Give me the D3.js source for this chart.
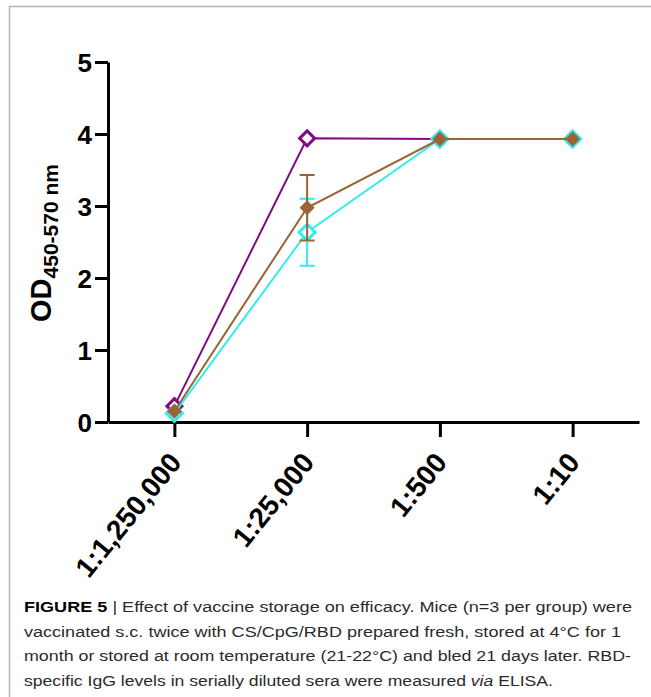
<!DOCTYPE html>
<html>
<head>
<meta charset="utf-8">
<script src="https://cdn.jsdelivr.net/npm/d3@7"></script>
<style>
  body { margin: 0; background: #fff; }
  svg { display: block; font-family: "Liberation Sans", Arial, sans-serif; }
</style>
</head>
<body>
<svg id="chart" width="651" height="697"></svg>
<script>
// Dilutions on the x axis
const dilutions = ['1:1,250,000', '1:25,000', '1:500', '1:10'];
const yTicks = [0, 1, 2, 3, 4, 5];

// OD values (mean and error)
const freshValues = [0.22, 3.94, 3.93, 3.93];
const freshErr = [0, 0, 0, 0];
const roomTempValues = [0.12, 2.635, 3.93, 3.93];
const roomTempErr = [0.02, 0.465, 0.01, 0.01];
const fridgeValues = [0.15, 2.975, 3.93, 3.93];
const fridgeErr = [0.02, 0.455, 0.01, 0.01];

const captionLines = [
    'Effect of vaccine storage on efficacy. Mice (n=3 per group) were',
    'vaccinated s.c. twice with CS/CpG/RBD prepared fresh, stored at 4\u00B0C for 1',
    'month or stored at room temperature (21-22\u00B0C) and bled 21 days later. RBD-',
    'specific IgG levels in serially diluted sera were measured '
];

const svg = d3.select('#chart');

// page frame (grey lines at top and left)
svg.append('path')
    .attr('d', 'M9.5,697 L9.5,6.5 L651,6.5')
    .attr('fill', 'none')
    .attr('stroke', '#b4b4b4')
    .attr('stroke-width', 1.5);

// scales
const x = d3.scalePoint()
    .domain(dilutions)
    .range([108, 639])
    .padding(0.5);

const y = d3.scaleLinear()
    .domain([0, 5])
    .range([422, 62]);

// axes
const yAxis = svg.append('g')
    .attr('transform', 'translate(108,0)')
    .call(d3.axisLeft(y).tickValues(yTicks).tickFormat(d3.format('d')).tickSize(13).tickSizeOuter(0).tickPadding(3));

const xAxis = svg.append('g')
    .attr('transform', 'translate(0,422)')
    .call(d3.axisBottom(x).tickSize(15).tickSizeOuter(0));

[yAxis, xAxis].forEach(g => {
    g.select('.domain').attr('stroke', '#000').attr('stroke-width', 3);
    g.selectAll('.tick line').attr('stroke', '#000').attr('stroke-width', 3);
    g.selectAll('.tick text')
        .attr('fill', '#000')
        .attr('font-size', 26)
        .attr('font-weight', 'bold')
        .attr('font-family', '"Liberation Sans", Arial, sans-serif');
});

yAxis.selectAll('.tick text').attr('dy', '0.36em');

xAxis.selectAll('.tick text')
    .attr('font-size', 28)
    .attr('text-anchor', 'end')
    .attr('transform', 'translate(8,41) rotate(-51)')
    .attr('y', 0)
    .attr('dy', 0);

// y label
const yLabel = svg.append('text')
    .attr('transform', 'translate(51,243) rotate(-90)')
    .attr('text-anchor', 'middle')
    .attr('font-weight', 'bold')
    .attr('fill', '#000');
yLabel.append('tspan').attr('font-size', 29).text('OD');
yLabel.append('tspan').attr('font-size', 21).attr('dy', 7).text('450-570 nm');

// series
const diamond = r => `M0,${-r}L${r},0L0,${r}L${-r},0Z`;

const series = [
    { values: freshValues, err: freshErr, color: '#820a82', fill: '#fff', r: 7.5, sw: 3 },
    { values: roomTempValues, err: roomTempErr, color: '#33ecec', fill: '#fff', r: 8, sw: 3 },
    { values: fridgeValues, err: fridgeErr, color: '#9a6434', fill: '#9a6434', r: 7.5, sw: 0 }
];

const line = d3.line()
    .x((d, i) => x(dilutions[i]))
    .y(d => y(d));

series.forEach(s => {
    const g = svg.append('g');

    g.append('path')
        .datum(s.values)
        .attr('d', line)
        .attr('fill', 'none')
        .attr('stroke', s.color)
        .attr('stroke-width', 2);

    // error bars where visible
    s.values.forEach((v, i) => {
        if (s.err[i] < 0.1) return;
        const cx = x(dilutions[i]);
        const top = y(v + s.err[i]);
        const bot = y(v - s.err[i]);
        g.append('path')
            .attr('d', `M${cx},${top}L${cx},${bot}M${cx - 7.5},${top}L${cx + 7.5},${top}M${cx - 7.5},${bot}L${cx + 7.5},${bot}`)
            .attr('fill', 'none')
            .attr('stroke', s.color)
            .attr('stroke-width', 2);
    });

    g.selectAll('path.marker')
        .data(s.values)
        .enter()
        .append('path')
        .attr('class', 'marker')
        .attr('transform', (d, i) => `translate(${x(dilutions[i])},${y(d)})`)
        .attr('d', diamond(s.r))
        .attr('fill', s.fill)
        .attr('stroke', s.sw ? s.color : 'none')
        .attr('stroke-width', s.sw);
});

// caption
const caption = svg.append('g')
    .attr('font-size', 15.5)
    .attr('fill', '#2b2b2b');

const lineWidths = [608, 597, 607, 529];
const baselines = [612, 636.5, 661, 685.5];

const first = caption.append('text')
    .attr('x', 24)
    .attr('y', baselines[0])
    .attr('textLength', lineWidths[0])
    .attr('lengthAdjust', 'spacingAndGlyphs');
first.append('tspan').attr('font-weight', 'bold').attr('fill', '#000').text('FIGURE 5');
first.append('tspan').text(' | ' + captionLines[0]);

for (let i = 1; i < 4; i++) {
    const t = caption.append('text')
        .attr('x', 24)
        .attr('y', baselines[i])
        .attr('textLength', lineWidths[i])
        .attr('lengthAdjust', 'spacingAndGlyphs');
    t.append('tspan').text(captionLines[i]);
    if (i === 3) {
        t.append('tspan').attr('font-style', 'italic').text('via');
        t.append('tspan').text(' ELISA.');
    }
}
</script>
</body>
</html>
